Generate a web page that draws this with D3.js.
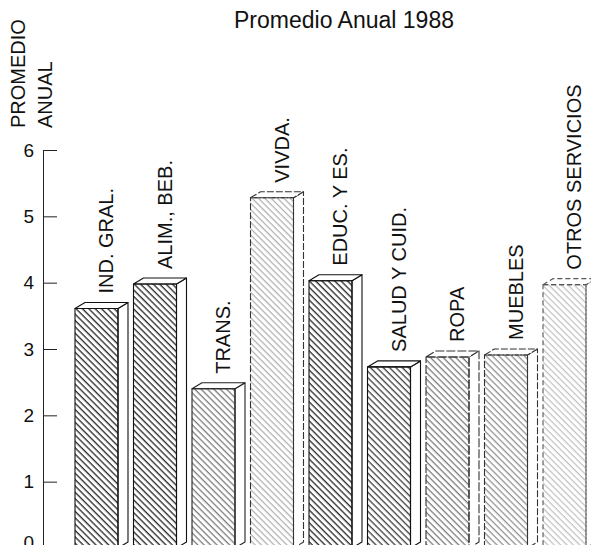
<!DOCTYPE html>
<html><head><meta charset="utf-8">
<script src="https://cdn.jsdelivr.net/npm/d3@7/dist/d3.min.js"></script>
<style>
html,body{margin:0;padding:0;background:#fff;}
svg{display:block;font-family:"Liberation Sans",Arial,sans-serif;}
</style></head>
<body>
<svg id="chart" width="591" height="545"></svg>
<script>
const categories = ["IND. GRAL.", "ALIM., BEB.", "TRANS.", "VIVDA.", "EDUC. Y ES.", "SALUD Y CUID.", "ROPA", "MUEBLES", "OTROS SERVICIOS"];
const values = [3.61, 3.98, 2.40, 5.28, 4.03, 2.73, 2.88, 2.91, 3.97];
const yTicks = [0, 1, 2, 3, 4, 5, 6];
const title = "Promedio Anual 1988";
const yTitle = ["PROMEDIO", "ANUAL"];

// hatch styles per bar (visual only)
const hatch = [
  {c:"#111", w:1.2, o:"#111", od:null},
  {c:"#111", w:1.2, o:"#111", od:null},
  {c:"#555", w:1.0, o:"#222", od:null},
  {c:"#8a8a8a", w:0.9, o:"#333", od:"7,2"},
  {c:"#111", w:1.2, o:"#111", od:null},
  {c:"#222", w:1.15, o:"#111", od:null},
  {c:"#555", w:1.0, o:"#333", od:"9,2"},
  {c:"#6a6a6a", w:0.95, o:"#333", od:"7,2"},
  {c:"#a0a0a0", w:0.85, o:"#555", od:"5,3"}
];

const svg = d3.select("#chart");
const x = d3.scaleBand().domain(categories).range([75, 586]).paddingInner(0.265).paddingOuter(0);
const y = d3.scaleLinear().domain([0, 6]).range([548, 150]);
const dx = 10, dy = 6;

const defs = svg.append("defs");
hatch.forEach((h, i) => {
  const p = defs.append("pattern").attr("id", "h" + i)
    .attr("patternUnits", "userSpaceOnUse").attr("width", 4.5).attr("height", 22)
    .attr("patternTransform", "rotate(-45)");
  p.append("line").attr("x1", 2).attr("y1", -1).attr("x2", 2).attr("y2", 23)
    .attr("stroke", h.c).attr("stroke-width", h.w);
});

// title
svg.append("text").attr("x", 344).attr("y", 28).attr("text-anchor", "middle")
  .attr("font-size", 23).attr("fill", "#111").text(title);

// y title
yTitle.forEach((t, i) => {
  svg.append("text").attr("transform", `translate(${25 + i * 27},128) rotate(-90)`)
    .attr("font-size", 20).attr("fill", "#111").text(t);
});

// axis
const axis = d3.axisLeft(y).tickValues(yTicks).tickFormat(d3.format("d"))
  .tickSize(-14).tickSizeOuter(0).tickPadding(9);
const ag = svg.append("g").attr("transform", "translate(43,0)").call(axis);
ag.selectAll("path,line").attr("stroke", "#222").attr("stroke-width", 1);
ag.selectAll("text").attr("font-size", 19).attr("fill", "#111")
  .attr("font-family", "'Liberation Sans',Arial,sans-serif");
ag.selectAll(".tick").filter(d => d === 0).select("text").attr("dy", "0.0em");

// bars
const g = svg.append("g");
categories.forEach((c, i) => {
  const v = values[i];
  const x0 = x(c), w = x.bandwidth(), yt = y(v), yb = y(0);
  const h = hatch[i];
  const bg = g.append("g").attr("stroke", h.o).attr("stroke-width", 1.1)
    .attr("stroke-dasharray", h.od || null).attr("stroke-linejoin", "round");
  // side
  bg.append("path").attr("fill", "#fff")
    .attr("d", `M${x0 + w},${yt} L${x0 + w + dx},${yt - dy} L${x0 + w + dx},${yb - dy} L${x0 + w},${yb} Z`);
  // top
  bg.append("path").attr("fill", "#fff")
    .attr("d", `M${x0},${yt} L${x0 + dx},${yt - dy} L${x0 + w + dx},${yt - dy} L${x0 + w},${yt} Z`);
  // front
  bg.append("rect").attr("x", x0).attr("y", yt).attr("width", w).attr("height", yb - yt)
    .attr("fill", `url(#h${i})`);
  // label
  svg.append("text").attr("transform", `translate(${x0 + 38},${yt - dy - 9}) rotate(-90)`)
    .attr("font-size", 20).attr("fill", "#111").text(c);
});
</script>
</body></html>
